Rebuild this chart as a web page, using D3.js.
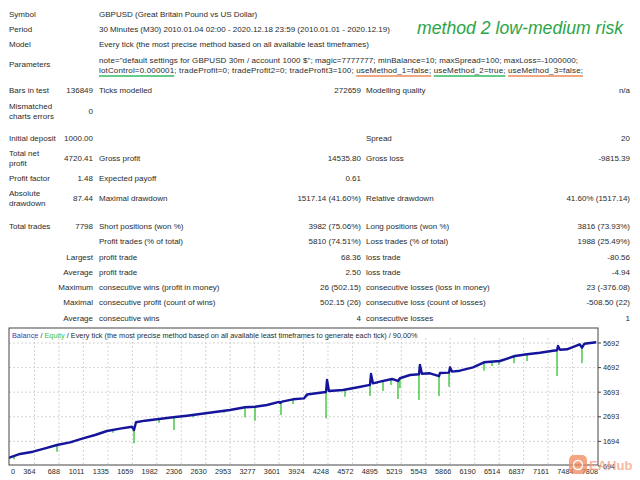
<!DOCTYPE html>
<html>
<head>
<meta charset="utf-8">
<script src="https://cdnjs.cloudflare.com/ajax/libs/d3/7.8.5/d3.min.js"></script>
<style>
    body { margin: 0; background: #fff; }
    text { font-family: "Liberation Sans", Arial, sans-serif; fill: #2b2b2b; }
</style>
</head>
<body>
<div id="report"></div>
<script>

/* * * * * * * * * * * * * *
*         DATA             *
* * * * * * * * * * * * * */

const head_labels = ["Symbol", "Period", "Model"];
const head_values = [
    "GBPUSD (Great Britain Pound vs US Dollar)",
    "30 Minutes (M30) 2010.01.04 02:00 - 2020.12.18 23:59 (2010.01.01 - 2020.12.19)",
    "Every tick (the most precise method based on all available least timeframes)"
];
const param_lines = [
    'note="default settings for GBPUSD 30m / account 1000 $"; magic=7777777; minBalance=10; maxSpread=100; maxLoss=-1000000;',
    'lotControl=0.000001; tradeProfit=0; tradeProfit2=0; tradeProfit3=100; useMethod_1=false; useMethod_2=true; useMethod_3=false;'
];
// [text on second line that gets underlined, colour]
const param_marks = [
    ["lotControl=0.000001", "green"],
    ["useMethod_1=false;", "orange"],
    ["useMethod_2=true;", "green"],
    ["useMethod_3=false;", "orange"]
];

// label1, value1, label2, value2, label3, value3
const stat_rows = [
    ["Bars in test", "136849", "Ticks modelled", "272659", "Modelling quality", "n/a"],
    ["Mismatched|charts errors", "0", "", "", "", ""],
    ["Initial deposit", "1000.00", "", "", "Spread", "20"],
    ["Total net|profit", "4720.41", "Gross profit", "14535.80", "Gross loss", "-9815.39"],
    ["Profit factor", "1.48", "Expected payoff", "0.61", "", ""],
    ["Absolute|drawdown", "87.44", "Maximal drawdown", "1517.14 (41.60%)", "Relative drawdown", "41.60% (1517.14)"],
    ["Total trades", "7798", "Short positions (won %)", "3982 (75.06%)", "Long positions (won %)", "3816 (73.93%)"],
    ["", "", "Profit trades (% of total)", "5810 (74.51%)", "Loss trades (% of total)", "1988 (25.49%)"],
    ["", "Largest", "profit trade", "68.36", "loss trade", "-80.56"],
    ["", "Average", "profit trade", "2.50", "loss trade", "-4.94"],
    ["", "Maximum", "consecutive wins (profit in money)", "26 (502.15)", "consecutive losses (loss in money)", "23 (-376.08)"],
    ["", "Maximal", "consecutive profit (count of wins)", "502.15 (26)", "consecutive loss (count of losses)", "-508.50 (22)"],
    ["", "Average", "consecutive wins", "4", "consecutive losses", "1"]
];

const chart_title = "method 2 low-medium risk";
const graph_caption = " / Every tick (the most precise method based on all available least timeframes to generate each tick) / 90.00%";

const x_tick_labels = [0, 364, 688, 1011, 1335, 1659, 1982, 2306, 2630, 2953, 3277, 3601, 3924,
    4248, 4572, 4895, 5219, 5543, 5866, 6190, 6514, 6837, 7161, 7484, 7808];
const y_tick_labels = [694, 1694, 2693, 3693, 4692, 5692];

// balance: [trade number, balance]
const balance = [
    [0, 1000], [172, 1182], [344, 1275], [503, 1413], [662, 1547], [834, 1657], [1006, 1820],
    [1165, 1954], [1323, 2116], [1495, 2210], [1654, 2291], [1681, 2157], [1707, 2470],
    [1826, 2535], [1985, 2592], [2197, 2673], [2382, 2738], [2554, 2807], [2753, 2888],
    [2951, 2970], [3150, 3080], [3282, 3103], [3441, 3173], [3600, 3300], [3613, 3260],
    [3640, 3307], [3785, 3404], [3930, 3440], [3970, 3600], [4142, 3673], [4222, 3700],
    [4235, 4188], [4261, 3740], [4447, 3782], [4645, 3892], [4804, 3990], [4817, 4432],
    [4843, 4054], [4936, 4120], [5095, 4229], [5174, 4150], [5200, 4260], [5333, 4392],
    [5452, 4420], [5465, 4798], [5491, 4440], [5598, 4460], [5717, 4350], [5730, 4470],
    [5850, 4490], [5863, 4704], [5889, 4530], [5995, 4567], [6167, 4704], [6313, 4908],
    [6524, 4961], [6723, 5164], [6882, 5233], [7054, 5298], [7226, 5379], [7279, 5400],
    [7292, 5570], [7318, 5420], [7411, 5436], [7580, 5640], [7609, 5500], [7640, 5660],
    [7798, 5720]
];

// equity dips: [trade number, balance level, lowest equity]
const equity_dips = [
    [93, 1098, 966], [662, 1547, 1275], [860, 1682, 1616], [1403, 2160, 2047],
    [1681, 2157, 1616], [2012, 2602, 2453], [2210, 2678, 2157], [2462, 2770, 2673],
    [2872, 2937, 2860], [3150, 3080, 2673], [3282, 3103, 2535], [3626, 3283, 2766],
    [3785, 3404, 3213], [3970, 3600, 3485], [4222, 3700, 2632], [4473, 3796, 3510],
    [4804, 3990, 3538], [4897, 4092, 4026], [4976, 4147, 3741], [5082, 4220, 3985],
    [5174, 4150, 3416], [5200, 4260, 3851], [5452, 4420, 3376], [5717, 4350, 3538],
    [5850, 4490, 3916], [6313, 4908, 4567], [6419, 4935, 4757], [6511, 4958, 4798],
    [6710, 5152, 4867], [6882, 5233, 4961], [7279, 5400, 4351], [7609, 5500, 4867]
];


/* * * * * * * * * * * * * *
*       REPORT TABLE       *
* * * * * * * * * * * * * */

const width = 640, height = 480;

const svg = d3.select("#report").append("svg")
    .attr("width", width)
    .attr("height", height);

const fs = 8;
const col = {lab1: 9, val1: 93, lab2: 99, val2: 361, lab3: 366, val3: 630};

// header rows
const head_y = [17, 32, 47];
head_labels.forEach((lab, i) => {
    svg.append("text").attr("x", col.lab1).attr("y", head_y[i]).attr("font-size", fs).text(lab);
    svg.append("text").attr("x", col.lab2).attr("y", head_y[i]).attr("font-size", fs).text(head_values[i]);
});

svg.append("text").attr("x", col.lab1).attr("y", 67).attr("font-size", fs).text("Parameters");
const param_width = [479, 484];
param_lines.forEach((line, i) => {
    svg.append("text")
        .attr("class", "param_line_" + i)
        .attr("x", col.lab2).attr("y", 63 + i * 10)
        .attr("font-size", fs)
        .attr("textLength", param_width[i])
        .attr("lengthAdjust", "spacing")
        .text(line);
});

// underline marked parameters, measuring positions inside the second line
const line2 = svg.select(".param_line_1").node();
param_marks.forEach(m => {
    const start = param_lines[1].indexOf(m[0]);
    const a = line2.getStartPositionOfChar(start).x;
    const b = line2.getEndPositionOfChar(start + m[0].length - 1).x;
    svg.append("line")
        .attr("x1", a).attr("x2", b)
        .attr("y1", 76).attr("y2", 76)
        .attr("stroke", m[1] == "green" ? "#33bb66" : "#ec8a55")
        .attr("stroke-width", 1.3);
});

// title
svg.append("text")
    .attr("x", 623).attr("y", 34)
    .attr("text-anchor", "end")
    .attr("font-family", "'Open Sans', 'Noto Sans', sans-serif")
    .attr("font-style", "italic")
    .attr("font-weight", 300)
    .attr("font-size", 17.6)
    .attr("textLength", 206)
    .style("fill", "#2aa548")
    .text(chart_title);

// statistic rows
const row_y = [90, 111, 138, 158, 178, 198, 226, 241, 257, 272, 287, 302, 318];

stat_rows.forEach((r, i) => {
    const cy = row_y[i] + 3;
    // first label, may be broken over two lines
    const parts = r[0].split("|");
    parts.forEach((p, k) => {
        svg.append("text")
            .attr("x", col.lab1)
            .attr("y", cy + (k - (parts.length - 1) / 2) * 10)
            .attr("font-size", fs)
            .text(p);
    });
    const cells = [
        [r[1], col.val1, "end"], [r[2], col.lab2, "start"], [r[3], col.val2, "end"],
        [r[4], col.lab3, "start"], [r[5], col.val3, "end"]
    ];
    cells.forEach(c => {
        if (c[0] === "") return;
        svg.append("text")
            .attr("x", c[1]).attr("y", cy)
            .attr("text-anchor", c[2])
            .attr("font-size", fs)
            .text(c[0]);
    });
});


/* * * * * * * * * * * * * *
*       BALANCE GRAPH      *
* * * * * * * * * * * * * */

const box = {left: 9, right: 598, top: 328, bottom: 465};

const x = d3.scaleLinear().domain([0, 7808]).range([7, 597]);
const y = d3.scaleLinear().domain([694, 5692]).range([466, 343]);

svg.append("clipPath").attr("id", "clip")
    .append("rect")
    .attr("x", box.left).attr("y", box.top)
    .attr("width", box.right - box.left).attr("height", box.bottom - box.top);

const grid = svg.append("g")
    .attr("stroke", "#c9c9c9")
    .attr("stroke-dasharray", "2,2")
    .attr("stroke-width", 0.8);

grid.selectAll(".vgrid")
    .data(x_tick_labels.slice(1, -1))
    .join("line")
    .attr("x1", d => x(d)).attr("x2", d => x(d))
    .attr("y1", box.top + 10).attr("y2", box.bottom);

grid.selectAll(".hgrid")
    .data(y_tick_labels.slice(1))
    .join("line")
    .attr("x1", box.left).attr("x2", box.right)
    .attr("y1", d => y(d)).attr("y2", d => y(d));

// equity spikes
svg.append("g")
    .attr("clip-path", "url(#clip)")
    .selectAll("line")
    .data(equity_dips)
    .join("line")
    .attr("x1", d => x(d[0])).attr("x2", d => x(d[0]))
    .attr("y1", d => y(d[1])).attr("y2", d => y(d[2]))
    .attr("stroke", "#2ec02e")
    .attr("stroke-width", 1.3);

const balance_line = d3.line()
    .x(d => x(d[0]))
    .y(d => y(d[1]));

svg.append("path")
    .datum(balance)
    .attr("clip-path", "url(#clip)")
    .attr("d", balance_line)
    .attr("fill", "none")
    .attr("stroke", "#15159c")
    .attr("stroke-width", 2.4)
    .attr("stroke-linejoin", "round");

svg.append("rect")
    .attr("x", box.left).attr("y", box.top)
    .attr("width", box.right - box.left).attr("height", box.bottom - box.top)
    .attr("fill", "none")
    .attr("stroke", "#444")
    .attr("stroke-width", 1);

// caption inside the graph
const cap = svg.append("text")
    .attr("x", 12).attr("y", 338)
    .attr("font-size", 7.3);
cap.append("tspan").style("fill", "#3a3ab4").text("Balance");
cap.append("tspan").text(" / ");
cap.append("tspan").style("fill", "#3ec03e").text("Equity");
cap.append("tspan").text(graph_caption);

// axis labels
svg.selectAll(".xlab")
    .data(x_tick_labels)
    .join("text")
    .attr("x", (d, i) => i == 0 ? 11 : x(d) + 1)
    .attr("y", 474)
    .attr("text-anchor", (d, i) => i == 0 ? "start" : "end")
    .attr("font-size", 7.3)
    .text(d => d);

svg.selectAll(".ytick")
    .data(y_tick_labels)
    .join("line")
    .attr("x1", box.right).attr("x2", box.right + 3)
    .attr("y1", d => y(d)).attr("y2", d => y(d))
    .attr("stroke", "#444");

svg.selectAll(".ylab")
    .data(y_tick_labels)
    .join("text")
    .attr("x", 603)
    .attr("y", d => y(d) + 2.6)
    .attr("font-size", 7.3)
    .text(d => d);

// watermark
const wm = svg.append("g").attr("opacity", 0.75);
wm.append("rect")
    .attr("x", 569).attr("y", 455)
    .attr("width", 18).attr("height", 19)
    .attr("rx", 5)
    .attr("fill", "#f2875a");
wm.append("circle")
    .attr("cx", 578).attr("cy", 465).attr("r", 4.5)
    .attr("fill", "none").attr("stroke", "#fff").attr("stroke-width", 1.5);
wm.append("text")
    .attr("x", 589).attr("y", 470)
    .attr("font-size", 13)
    .attr("font-weight", "bold")
    .style("fill", "#f4a184")
    .text("EAHub");

</script>
</body>
</html>
